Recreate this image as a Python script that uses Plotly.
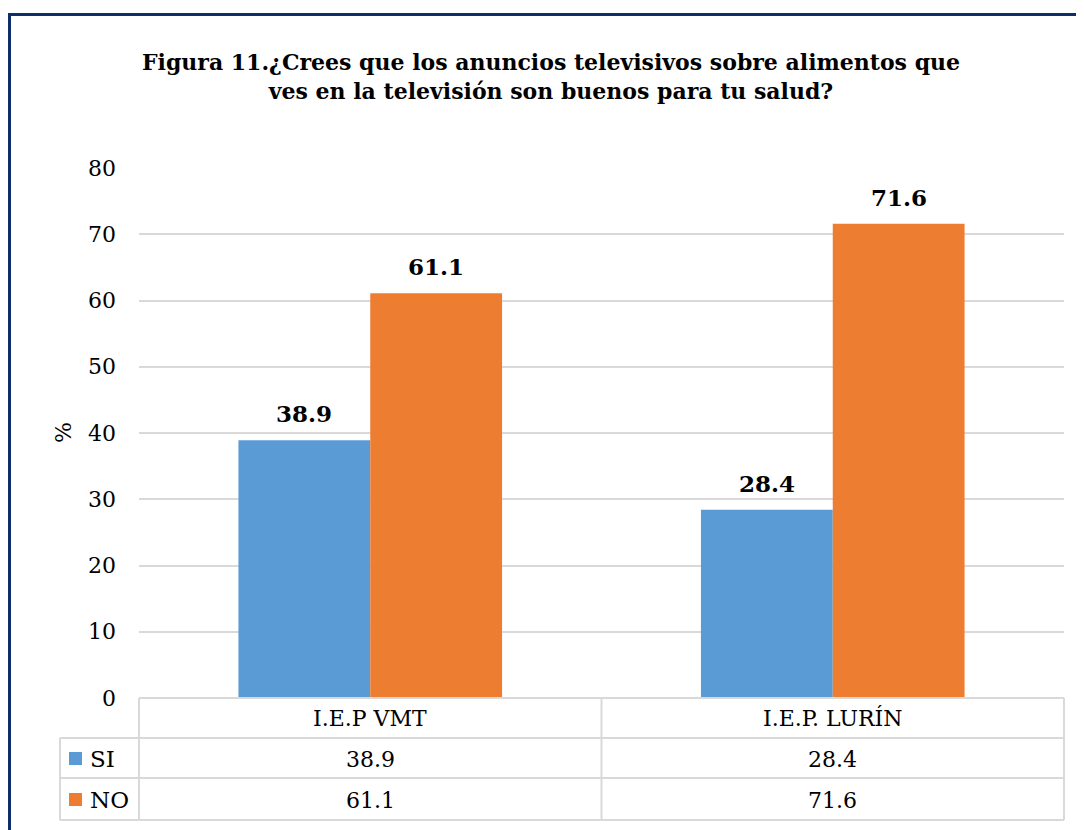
import plotly.graph_objects as go

categories = ["I.E.P VMT", "I.E.P. LURÍN"]
series_names = ["SI", "NO"]
si_values = [38.9, 28.4]
no_values = [61.1, 71.6]
y_ticks = [0, 10, 20, 30, 40, 50, 60, 70, 80]
title_text = "<b>Figura 11.¿Crees que los anuncios televisivos sobre alimentos que<br>ves en la televisión son buenos para tu salud?</b>"

colors = ["#5B9BD5", "#ED7D31"]
series_values = [si_values, no_values]
FONT = "DejaVu Serif"

OFF = 8  # page body margin
W, H = 1084, 830
L, R, T, B = 139 - OFF, 1084 + OFF - 1064, 168 - OFF, 830 + OFF - 698
pw, ph = W - L - R, H - T - B

def px_x(p):
    return (p - OFF - L) / pw

def px_y(p):
    return (H - B - (p - OFF)) / ph

fig = go.Figure()
for name, vals, col in zip(series_names, series_values, colors):
    fig.add_trace(go.Bar(
        x=categories, y=vals, name=name, marker=dict(color=col, line=dict(width=0)),
        showlegend=False,
    ))

annotations = []
for si, vals in enumerate(series_values):
    for ci, v in enumerate(vals):
        annotations.append(dict(
            x=ci + (-0.143 if si == 0 else 0.143), xref="x", y=v, yref="y",
            text=f"<b>{v:.1f}</b>", showarrow=False, yanchor="bottom", yshift=11,
            font=dict(family=FONT, size=23, color="#000000"),
        ))

row_y = [px_y(718), px_y(759), px_y(800)]
for ci, cat in enumerate(categories):
    annotations.append(dict(x=ci, xref="x", y=row_y[0], yref="paper", text=cat, yanchor="middle",
                            showarrow=False, font=dict(family=FONT, size=22, color="#000000")))
    for si, vals in enumerate(series_values):
        annotations.append(dict(x=ci, xref="x", y=row_y[si + 1], yref="paper", text=f"{vals[ci]:.1f}",
                                yanchor="middle", showarrow=False,
                                font=dict(family=FONT, size=22, color="#000000")))
for si, name in enumerate(series_names):
    annotations.append(dict(x=px_x(88), xref="paper", y=row_y[si + 1], yref="paper", text=name,
                            xanchor="left", yanchor="middle", showarrow=False,
                            font=dict(family=FONT, size=23, color="#000000")))

annotations.append(dict(x=px_x(63), xref="paper", y=px_y(433), yref="paper", text="%", textangle=-90,
                        xanchor="center", yanchor="middle",
                        showarrow=False, font=dict(family=FONT, size=22, color="#000000")))

shapes = []
gc = "#D9D9D9"
def hline(y, x0, x1):
    shapes.append(dict(type="line", xref="paper", yref="paper", x0=px_x(x0), x1=px_x(x1), y0=px_y(y), y1=px_y(y),
                       line=dict(color=gc, width=2)))
def vline(x, y0, y1):
    shapes.append(dict(type="line", xref="paper", yref="paper", x0=px_x(x), x1=px_x(x), y0=px_y(y0), y1=px_y(y1),
                       line=dict(color=gc, width=2)))
hline(698, 139, 1064)
hline(738, 60, 1064)
hline(778, 60, 1064)
hline(820, 60, 1064)
vline(60, 738, 820)
vline(139, 698, 820)
vline(1064, 698, 820)
shapes.append(dict(type="line", xref="x", yref="paper", x0=0.5, x1=0.5, y0=px_y(698), y1=px_y(820),
                   line=dict(color=gc, width=2)))
for si, col in enumerate(colors):
    cy = [759, 800][si]
    shapes.append(dict(type="rect", xref="paper", yref="paper", x0=px_x(69), x1=px_x(82),
                       y0=px_y(cy - 7), y1=px_y(cy + 6), fillcolor=col, line=dict(width=0)))
shapes.append(dict(type="rect", xref="paper", yref="paper", x0=px_x(9.5), x1=px_x(1100),
                   y0=px_y(14.5), y1=px_y(900), line=dict(color="#0E2D6B", width=3), fillcolor="rgba(0,0,0,0)"))

fig.update_layout(
    width=W, height=H,
    margin=dict(l=L, r=R, t=T, b=B, autoexpand=False),
    paper_bgcolor="white", plot_bgcolor="white",
    barmode="group", bargap=0.43, bargroupgap=0,
    font=dict(family=FONT),
    title=dict(text=title_text, x=(551 - OFF) / W, xref="container", xanchor="center",
               y=1 - (70 - OFF) / H, yanchor="middle",
               font=dict(family=FONT, size=22, color="#000000")),
    xaxis=dict(showticklabels=False, showgrid=False, zeroline=False, showline=False, ticks="",
               range=[-0.5, 1.5]),
    yaxis=dict(range=[0, 80], tickvals=y_ticks, showgrid=True, gridcolor=gc, gridwidth=2,
               zeroline=False, showline=False, ticks="", ticklabelstandoff=22,
               tickfont=dict(family=FONT, size=22, color="#000000")),
    annotations=annotations, shapes=shapes,
)

fig.write_html("out.html")
